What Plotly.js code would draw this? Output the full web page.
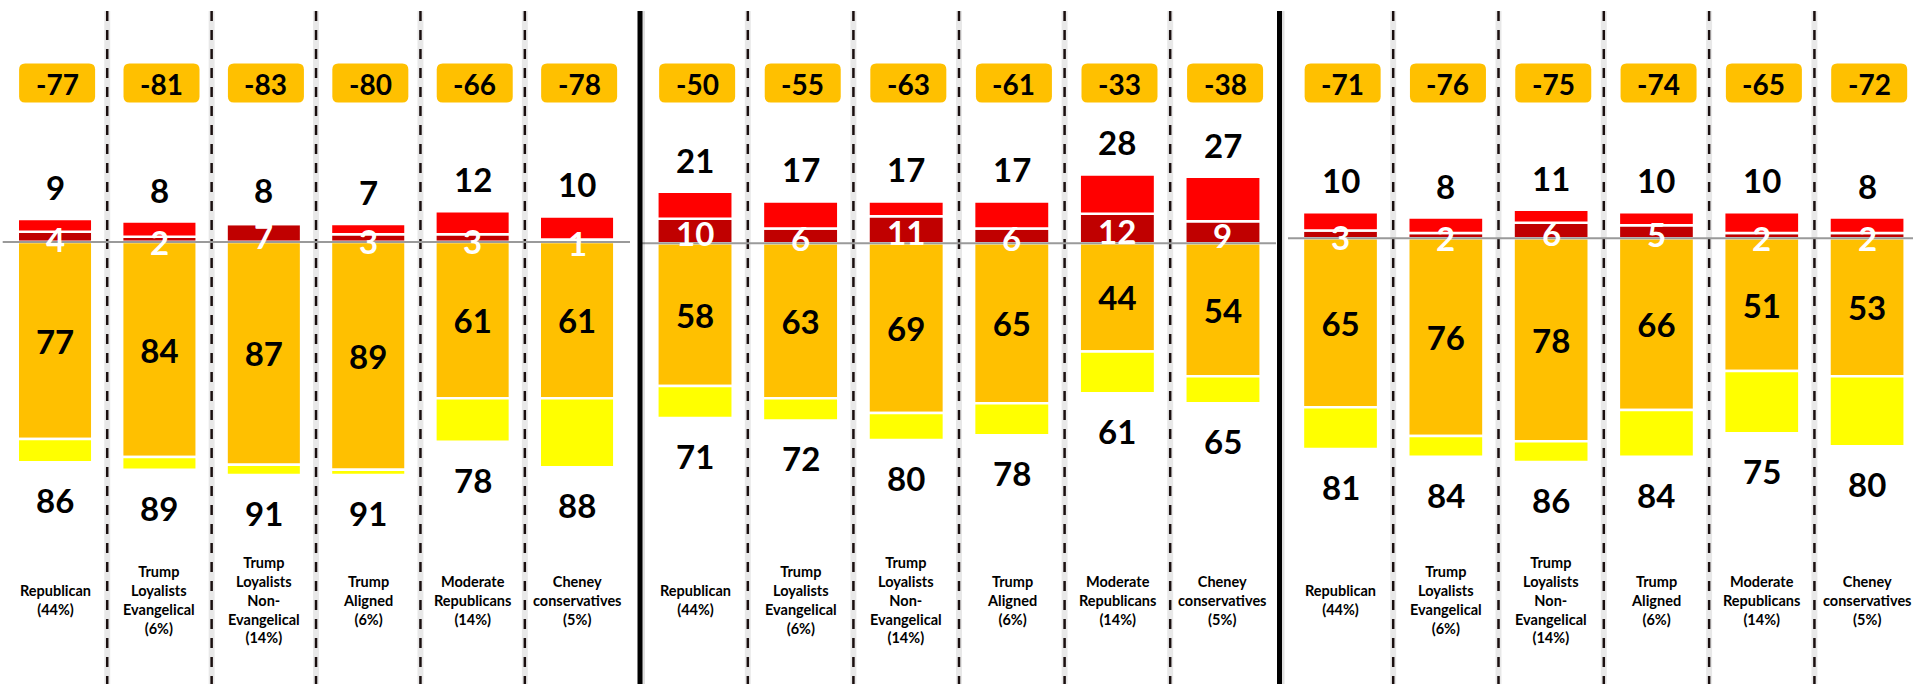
<!DOCTYPE html>
<html>
<head>
<meta charset="utf-8">
<script src="https://cdn.plot.ly/plotly-3.0.1.min.js"></script>
<style>
  html, body { margin: 0; padding: 0; background: #ffffff; }
  #chart { width: 1913px; height: 684px; }
</style>
</head>
<body>
<div id="chart"></div>
<script>
// ---------------- DATA ----------------
const categories = [
  "Republican<br>(44%)",
  "Trump<br>Loyalists<br>Evangelical<br>(6%)",
  "Trump<br>Loyalists<br>Non-<br>Evangelical<br>(14%)",
  "Trump<br>Aligned<br>(6%)",
  "Moderate<br>Republicans<br>(14%)",
  "Cheney<br>conservatives<br>(5%)"
];

// one row per panel (three side-by-side charts)
const netScore          = [[-77, -81, -83, -80, -66, -78],
                           [-50, -55, -63, -61, -33, -38],
                           [-71, -76, -75, -74, -65, -72]];
const totalFavorable    = [[9, 8, 8, 7, 12, 10],
                           [21, 17, 17, 17, 28, 27],
                           [10, 8, 11, 10, 10, 8]];
const strongFavorable   = [[4, 2, 7, 3, 3, 1],
                           [10, 6, 11, 6, 12, 9],
                           [3, 2, 6, 5, 2, 2]];
const strongUnfavorable = [[77, 84, 87, 89, 61, 61],
                           [58, 63, 69, 65, 44, 54],
                           [65, 76, 78, 66, 51, 53]];
const totalUnfavorable  = [[86, 89, 91, 91, 78, 88],
                           [71, 72, 80, 78, 61, 65],
                           [81, 84, 86, 84, 75, 80]];

// ---------------- STYLE / LAYOUT ----------------
const COLORS = { strongFav: '#C00000', fav: '#FF0000', strongUnfav: '#FFC000', unfav: '#FFFF00', net: '#FFC000' };
const FONT = 'Lato, "Open Sans", "DejaVu Sans", sans-serif';
const W = 1913, H = 684;

const panels = [
  { domain: [0, 0.3339],      xr: [-0.527, 5.591], yr: [-172.66, 94.53], base: [2.7, 630] },
  { domain: [0.3339, 0.6675], xr: [-0.533, 5.511], yr: [-179.15, 98.9],  base: [641, 1276] },
  { domain: [0.6675, 1],      xr: [-0.604, 5.436], yr: [-171.4, 91.65],  base: [1288, 1913] }
];

function roundRect(w, h, r) {
  const x0 = -w / 2, x1 = w / 2, y0 = -h / 2, y1 = h / 2;
  return `M${x0 + r},${y0} L${x1 - r},${y0} Q${x1},${y0} ${x1},${y0 + r} L${x1},${y1 - r} Q${x1},${y1} ${x1 - r},${y1} ` +
         `L${x0 + r},${y1} Q${x0},${y1} ${x0},${y1 - r} L${x0},${y0 + r} Q${x0},${y0} ${x0 + r},${y0} Z`;
}

const traces = [];
const annotations = [];
const shapes = [];
const layout = {
  width: W, height: H,
  margin: { l: 0, r: 0, t: 0, b: 0, pad: 0 },
  paper_bgcolor: '#ffffff', plot_bgcolor: 'rgba(0,0,0,0)',
  barmode: 'relative',
  showlegend: false,
  hovermode: false,
  font: { family: FONT, color: '#000000' }
};

const BAR_W = 0.714;
const barLine = { color: '#ffffff', width: 2.5 };
const topY = 1 - 11 / H;

panels.forEach((pn, p) => {
  const sfx = p === 0 ? '' : String(p + 1);
  const xa = 'x' + sfx, ya = 'y' + sfx;
  layout['xaxis' + sfx] = { domain: pn.domain, range: pn.xr, anchor: ya, visible: false, fixedrange: true };
  layout['yaxis' + sfx] = { domain: [0, 1], range: pn.yr, anchor: xa, visible: false, fixedrange: true };

  const xs = categories.map((_, j) => j);
  const sf = strongFavorable[p];
  const fav = totalFavorable[p].map((v, j) => v - sf[j]);
  const su = strongUnfavorable[p];
  const unf = totalUnfavorable[p].map((v, j) => v - su[j]);

  const common = { type: 'bar', x: xs, xaxis: xa, yaxis: ya, width: BAR_W, hoverinfo: 'skip', cliponaxis: false };
  traces.push(Object.assign({}, common, { name: 'Strong favorable', y: sf, marker: { color: COLORS.strongFav, line: barLine } }));
  traces.push(Object.assign({}, common, { name: 'Favorable', y: fav, marker: { color: COLORS.fav, line: barLine } }));
  traces.push(Object.assign({}, common, {
    name: 'Strong unfavorable', y: su.map(v => -v), marker: { color: COLORS.strongUnfav, line: barLine },
    text: su.map(String), textposition: 'inside', insidetextanchor: 'middle', textangle: 0, constraintext: 'none',
    textfont: { family: FONT, size: 33, color: '#000000', weight: 'bold' }
  }));
  traces.push(Object.assign({}, common, { name: 'Unfavorable', y: unf.map(v => -v), marker: { color: COLORS.unfav, line: barLine } }));

  xs.forEach(j => {
    // net score rounded box + text
    shapes.push({
      type: 'path', xref: xa, yref: 'paper', xsizemode: 'pixel', ysizemode: 'pixel',
      xanchor: j + 0.02, yanchor: 1 - 83 / H, path: roundRect(76, 39, 6),
      fillcolor: COLORS.net, line: { width: 0 }, layer: 'above'
    });
    annotations.push({
      xref: xa, yref: 'paper', x: j + 0.02, y: 1 - 83 / H, yshift: -1,
      text: String(netScore[p][j]), showarrow: false, xanchor: 'center', yanchor: 'middle',
      font: { family: FONT, size: 28, color: '#000000', weight: 'bold' }
    });
    // total favourable above bar
    annotations.push({
      xref: xa, yref: ya, x: j, y: totalFavorable[p][j], yshift: 32,
      text: String(totalFavorable[p][j]), showarrow: false, xanchor: 'center', yanchor: 'middle',
      font: { family: FONT, size: 33, color: '#000000', weight: 'bold' }
    });
    // strong favourable (white) near base
    annotations.push({
      xref: xa, yref: ya, x: j, y: strongFavorable[p][j] / 2, yshift: -2.5,
      text: String(strongFavorable[p][j]), showarrow: false, xanchor: 'center', yanchor: 'middle',
      font: { family: FONT, size: 33, color: '#ffffff', weight: 'bold' }
    });
    // total unfavourable below bar
    annotations.push({
      xref: xa, yref: ya, x: j, y: -totalUnfavorable[p][j], yshift: -38,
      text: String(totalUnfavorable[p][j]), showarrow: false, xanchor: 'center', yanchor: 'middle',
      font: { family: FONT, size: 33, color: '#000000', weight: 'bold' }
    });
    // category label
    annotations.push({
      xref: xa, yref: 'paper', x: j, y: 1 - 600 / H,
      text: categories[j], showarrow: false, xanchor: 'center', yanchor: 'middle', align: 'center',
      font: { family: FONT, size: 14.5, color: '#000000', weight: 'bold' }
    });
    // dashed separators
    if (j < categories.length - 1) {
      shapes.push({
        type: 'line', xref: xa, yref: 'paper', x0: j + 0.5, x1: j + 0.5, y0: topY, y1: 0,
        line: { color: 'rgba(0,0,0,0.09)', width: 6 }, layer: 'below'
      });
      shapes.push({
        type: 'line', xref: xa, yref: 'paper', x0: j + 0.5, x1: j + 0.5, y0: topY, y1: 0,
        line: { color: '#1a0f0f', width: 2.5, dash: '10px,9px' }, layer: 'above'
      });
    }
  });

  // baseline
  shapes.push({
    type: 'line', xref: 'paper', yref: ya, x0: pn.base[0] / W, x1: pn.base[1] / W, y0: 0, y1: 0,
    line: { color: '#9a9a9a', width: 2 }, layer: 'above'
  });
});

// solid panel separators
[640, 1279.5].forEach(px => {
  shapes.push({
    type: 'line', xref: 'paper', yref: 'paper', x0: (px + 3) / W, x1: (px + 3) / W, y0: topY, y1: 0,
    line: { color: 'rgba(0,0,0,0.12)', width: 4 }, layer: 'above'
  });
  shapes.push({
    type: 'line', xref: 'paper', yref: 'paper', x0: px / W, x1: px / W, y0: topY, y1: 0,
    line: { color: '#000000', width: 5 }, layer: 'above'
  });
});

layout.annotations = annotations;
layout.shapes = shapes;

Plotly.newPlot('chart', traces, layout, { staticPlot: true, displayModeBar: false });
</script>
</body>
</html>
